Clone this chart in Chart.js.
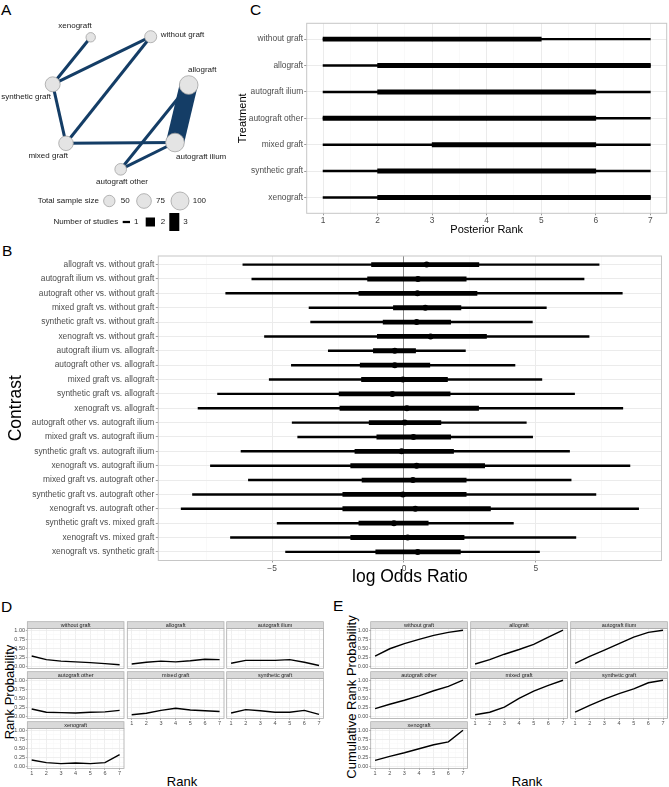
<!DOCTYPE html>
<html><head><meta charset="utf-8">
<script src="https://cdn.jsdelivr.net/npm/chart.js@4.4.1/dist/chart.umd.min.js"></script>
<style>
html,body{margin:0;padding:0;background:#fff;}
body{width:669px;height:787px;position:relative;overflow:hidden;font-family:"Liberation Sans",Arial,Helvetica,sans-serif;}
.lab{position:absolute;font-size:15.5px;line-height:1;color:#000;}
.ttl{position:absolute;line-height:1;color:#000;white-space:nowrap;transform:translate(-50%,-50%);}
.rot{transform:translate(-50%,-50%) rotate(-90deg);}
</style></head><body>
<div class="lab" style="left:1px;top:2px">A</div>
<div class="lab" style="left:250px;top:2px">C</div>
<div class="lab" style="left:2px;top:243px">B</div>
<div class="lab" style="left:1px;top:599px">D</div>
<div class="lab" style="left:333px;top:598px">E</div>
<div class="ttl rot" style="left:8.5px;top:692px;font-size:13px">Rank Probability</div>
<div class="ttl" style="left:182px;top:781px;font-size:13px">Rank</div>
<div class="ttl rot" style="left:350.5px;top:697px;font-size:13px">Cumulative Rank Probability</div>
<div class="ttl" style="left:527px;top:781px;font-size:13px">Rank</div>
<script>
// ---------------- DATA ----------------
const treatments = ['without graft','allograft','autograft ilium','autograft other','mixed graft','synthetic graft','xenograft'];
// Panel A: network
const sampleSize = [55, 105, 105, 52, 74, 77, 35];
const nodeX = [150.7, 188.7, 175, 120.7, 66, 52.7, 90.7];
const nodeY = [36.7, 85, 142.5, 169.3, 143.3, 84.3, 37.3];
const edgeFrom = ['xenograft','synthetic graft','synthetic graft','mixed graft','mixed graft','allograft','autograft ilium','allograft'];
const edgeTo   = ['synthetic graft','without graft','mixed graft','without graft','autograft ilium','autograft other','autograft other','autograft ilium'];
const edgeStudies = [1, 1, 1, 1, 1, 1, 1, 3];
const legendSizes = [50, 75, 100];
const legendStudies = [1, 2, 3];

// Panel C: posterior rank
const rankTicks = [1, 2, 3, 4, 5, 6, 7];
const rankMedian  = [3, 5, 4, 4, 5, 4, 5];
const rankInnerLo = [1, 2, 2, 1, 3, 2, 2];
const rankInnerHi = [5, 7, 6, 6, 6, 6, 7];
const rankOuterLo = [1, 1, 1, 1, 1, 1, 1];
const rankOuterHi = [7, 7, 7, 7, 7, 7, 7];

// Panel B: log odds ratio contrasts
const contrasts = [
  'allograft vs. without graft','autograft ilium vs. without graft','autograft other vs. without graft',
  'mixed graft vs. without graft','synthetic graft vs. without graft','xenograft vs. without graft',
  'autograft ilium vs. allograft','autograft other vs. allograft','mixed graft vs. allograft',
  'synthetic graft vs. allograft','xenograft vs. allograft','autograft other vs. autograft ilium',
  'mixed graft vs. autograft ilium','synthetic graft vs. autograft ilium','xenograft vs. autograft ilium',
  'mixed graft vs. autograft other','synthetic graft vs. autograft other','xenograft vs. autograft other',
  'synthetic graft vs. mixed graft','xenograft vs. mixed graft','xenograft vs. synthetic graft'];
const lorOuterLo = [-6.11,-5.77,-6.76,-3.60,-3.54,-5.29,-2.87,-4.27,-5.11,-7.07,-7.81,-4.24,-4.03,-6.18,-7.34,-5.90,-8.02,-8.45,-4.81,-6.58,-4.49];
const lorInnerLo = [-1.23,-1.38,-1.71,-0.40,-0.79,-1.01,-1.16,-1.66,-1.61,-2.46,-2.43,-1.32,-1.03,-1.86,-2.02,-1.59,-2.32,-2.32,-1.71,-2.02,-1.07];
const lorMean    = [0.86,0.53,0.51,0.81,0.48,1.01,-0.35,-0.35,-0.04,-0.44,0.11,0.03,0.36,-0.09,0.48,0.34,-0.04,0.43,-0.38,0.14,0.52];
const lorInnerHi = [2.84,2.36,2.77,2.16,1.77,3.13,0.44,0.98,1.65,1.75,2.83,1.40,1.77,1.88,3.06,2.36,2.36,3.28,0.92,2.28,2.14];
const lorOuterHi = [7.40,6.83,8.28,5.40,4.87,7.02,2.33,4.21,5.23,6.47,8.30,4.64,4.88,6.28,8.57,6.34,7.28,8.90,4.15,6.52,5.14];
const lorTickValues = [-5, 0, 5];
const lorTickLabels = ['\u22125', '0', '5'];

// Panel D: rank probability
const probWithoutGraft   = [0.29,0.19,0.15,0.13,0.11,0.08,0.05];
const probAllograft      = [0.07,0.12,0.15,0.13,0.16,0.20,0.19];
const probAutograftIlium = [0.09,0.17,0.17,0.17,0.19,0.12,0.03];
const probAutograftOther = [0.21,0.12,0.11,0.10,0.12,0.13,0.17];
const probMixedGraft     = [0.05,0.09,0.17,0.23,0.18,0.16,0.14];
const probSyntheticGraft = [0.10,0.19,0.16,0.12,0.12,0.17,0.06];
const probXenograft      = [0.18,0.11,0.08,0.10,0.08,0.11,0.33];
// Panel E: cumulative rank probability
const cumWithoutGraft   = [0.29,0.49,0.63,0.75,0.86,0.94,1.00];
const cumAllograft      = [0.07,0.19,0.34,0.47,0.61,0.81,1.00];
const cumAutograftIlium = [0.09,0.28,0.45,0.63,0.81,0.94,1.00];
const cumAutograftOther = [0.22,0.34,0.45,0.57,0.71,0.83,1.00];
const cumMixedGraft     = [0.05,0.12,0.26,0.50,0.70,0.86,1.00];
const cumSyntheticGraft = [0.12,0.31,0.48,0.63,0.76,0.93,1.00];
const cumXenograft      = [0.17,0.28,0.38,0.49,0.60,0.68,1.00];
const probTickValues = [0, 0.25, 0.5, 0.75, 1];
const probTickLabels = ['0.00','0.25','0.50','0.75','1.00'];

// ---------------- HELPERS ----------------
const FONT = '"Liberation Sans", Arial, Helvetica, sans-serif';
Chart.defaults.font.family = FONT;
Chart.defaults.color = '#4d4d4d';
Chart.defaults.animation = false;

function mk(L, T, W, H) {
  const c = document.createElement('canvas');
  c.width = W; c.height = H;
  c.style.cssText = `position:absolute;left:${L}px;top:${T}px;width:${W}px;height:${H}px`;
  document.body.appendChild(c);
  return c;
}
function geom(L, T, W, H, a) {
  return { padding: {left: 0, top: a.t - T, right: L + W - a.r, bottom: 0}, yW: a.l - L, xH: T + H - a.b };
}
const tv = c => (c && c.tick) ? c.tick.value : NaN;
const isMajor = (v, list) => list.some(x => Math.abs(x - v) < 1e-9);
const framePlugin = {
  id: 'frame',
  afterDraw(chart, args, o) {
    const {ctx, chartArea: a} = chart;
    ctx.save();
    if (o.strip) {
      ctx.fillStyle = '#d9d9d9';
      ctx.fillRect(a.left, a.top - o.stripH, a.right - a.left, o.stripH);
      ctx.strokeStyle = o.color; ctx.lineWidth = 0.7;
      ctx.strokeRect(a.left, a.top - o.stripH, a.right - a.left, o.stripH);
      ctx.fillStyle = '#1a1a1a';
      ctx.font = '5.5px ' + FONT;
      ctx.textAlign = 'center'; ctx.textBaseline = 'middle';
      ctx.fillText(o.strip, (a.left + a.right) / 2, a.top - o.stripH / 2 + 0.3);
    }
    ctx.strokeStyle = o.color; ctx.lineWidth = o.width || 1;
    ctx.strokeRect(a.left, a.top, a.right - a.left, a.bottom - a.top);
    ctx.restore();
  }
};

// ---------------- PANEL A ----------------
(function () {
  const idx = n => treatments.indexOf(n);
  const studyWidth = n => ({1: 3, 2: 9, 3: 18})[n];
  const sizeRadius = n => 2.4 + 0.066 * n;
  const labelStyle = {
    'without graft':   {dx: 10,  dy: -2.4, align: 'left'},
    'allograft':       {dx: -0.7, dy: -15, align: 'left'},
    'autograft ilium': {dx: 1,   dy: 14,  align: 'left'},
    'autograft other': {dx: 1.3, dy: 12.7, align: 'center'},
    'mixed graft':     {dx: 2,   dy: 12.7, align: 'right'},
    'synthetic graft': {dx: -1.7, dy: 12.7, align: 'right'},
    'xenograft':       {dx: -15.7, dy: -11.3, align: 'center'}
  };
  const edges = edgeFrom.map((f, k) => ({
    type: 'line',
    data: [{x: nodeX[idx(f)], y: nodeY[idx(f)]}, {x: nodeX[idx(edgeTo[k])], y: nodeY[idx(edgeTo[k])]}],
    borderColor: '#143d66', borderWidth: studyWidth(edgeStudies[k]), borderCapStyle: 'butt',
    pointRadius: 0, fill: false, order: 1, clip: false
  }));
  const nodes = {
    type: 'bubble',
    data: treatments.map((t, i) => ({x: nodeX[i], y: nodeY[i], r: sizeRadius(sampleSize[i])})),
    backgroundColor: '#e4e4e4', borderColor: '#a3a3a3', borderWidth: 0.8, order: 0, clip: false
  };
  const netPlugin = {
    id: 'net',
    afterDraw(chart) {
      const {ctx, scales: {x, y}} = chart;
      ctx.save();
      ctx.fillStyle = '#1a1a1a';
      ctx.font = '8px ' + FONT;
      ctx.textBaseline = 'middle';
      treatments.forEach((t, i) => {
        const s = labelStyle[t];
        ctx.textAlign = s.align;
        ctx.fillText(t, x.getPixelForValue(nodeX[i]) + s.dx, y.getPixelForValue(nodeY[i]) + s.dy);
      });
      ctx.textAlign = 'right';
      ctx.fillText('Total sample size', 99, 201);
      const cx = [109.3, 144, 180], tx = [120.7, 156, 192.7];
      legendSizes.forEach((n, k) => {
        ctx.beginPath(); ctx.arc(cx[k], 201, sizeRadius(n), 0, Math.PI * 2);
        ctx.fillStyle = '#e4e4e4'; ctx.fill();
        ctx.strokeStyle = '#a3a3a3'; ctx.lineWidth = 0.8; ctx.stroke();
        ctx.fillStyle = '#1a1a1a'; ctx.textAlign = 'left';
        ctx.fillText(String(n), tx[k], 201);
      });
      ctx.textAlign = 'right';
      ctx.fillText('Number of studies', 118.3, 222);
      const kx = [122.7, 145.7, 169.3], kw = [7.3, 9.3, 10], lx = [134, 160.7, 183.3];
      legendStudies.forEach((n, k) => {
        const h = studyWidth(n) * (n === 1 ? 0.75 : 1);
        ctx.fillStyle = '#000';
        ctx.fillRect(kx[k], 222 - h / 2, kw[k], h);
        ctx.fillStyle = '#1a1a1a'; ctx.textAlign = 'left';
        ctx.fillText(String(n), lx[k], 222);
      });
      ctx.restore();
    }
  };
  new Chart(mk(0, 0, 230, 240), {
    type: 'scatter',
    data: {datasets: [...edges, nodes]},
    options: {
      responsive: false, events: [],
      layout: {padding: 0, autoPadding: false},
      plugins: {legend: {display: false}, tooltip: {enabled: false}},
      scales: {
        x: {type: 'linear', display: false, min: 0, max: 230, offset: false},
        y: {type: 'linear', display: false, min: 0, max: 240, reverse: true, offset: false}
      }
    },
    plugins: [netPlugin]
  });
})();

// ---------------- PANEL C ----------------
(function () {
  const L = 220, T = 0, W = 449, H = 240;
  const g = geom(L, T, W, H, {l: 306.7, t: 23.3, r: 666.7, b: 213.3});
  const minorX = [1.5, 2.5, 3.5, 4.5, 5.5, 6.5];
  new Chart(mk(L, T, W, H), {
    type: 'bar',
    data: {datasets: [
      {type: 'scatter', data: treatments.map((t, i) => ({x: rankMedian[i], y: i})), pointRadius: 2,
       backgroundColor: '#000', borderColor: '#000', borderWidth: 0, order: 0},
      {type: 'bar', indexAxis: 'y', grouped: false, data: treatments.map((t, i) => ({y: i, x: [rankInnerLo[i], rankInnerHi[i]]})),
       barThickness: 4.3, backgroundColor: '#000', order: 1},
      {type: 'bar', indexAxis: 'y', grouped: false, data: treatments.map((t, i) => ({y: i, x: [rankOuterLo[i], rankOuterHi[i]]})),
       barThickness: 1.8, backgroundColor: '#000', order: 2}
    ]},
    options: {
      responsive: false, events: [],
      layout: {padding: g.padding, autoPadding: false},
      plugins: {legend: {display: false}, tooltip: {enabled: false}, frame: {color: '#c6c6c6', width: 1}},
      scales: {
        x: {type: 'linear', position: 'bottom', min: 0.7, max: 7.3, offset: false, beginAtZero: false,
          afterBuildTicks: s => { s.ticks = [...rankTicks, ...minorX].sort((a, b) => a - b).map(v => ({value: v})); },
          afterFit: s => { s.height = g.xH; },
          border: {display: false},
          grid: {offset: false, color: c => isMajor(tv(c), rankTicks) ? '#ebebeb' : '#f5f5f5',
                 lineWidth: c => isMajor(tv(c), rankTicks) ? 1 : 0.6,
                 tickColor: c => isMajor(tv(c), rankTicks) ? '#9a9a9a' : 'rgba(0,0,0,0)', tickLength: 2},
          ticks: {autoSkip: false, maxRotation: 0, padding: 0, font: {size: 8.4},
                  callback: v => isMajor(v, rankTicks) ? String(v) : ''},
          title: {display: true, text: 'Posterior Rank', color: '#000', font: {size: 11}, padding: {top: 0, bottom: 3.4}}
        },
        y: {type: 'linear', position: 'left', min: -0.6, max: treatments.length - 0.4, reverse: true, offset: false, beginAtZero: false,
          afterBuildTicks: s => { s.ticks = treatments.map((t, i) => ({value: i})); },
          afterFit: s => { s.width = g.yW; },
          border: {display: false},
          grid: {offset: false, color: '#ebebeb', lineWidth: 1, tickColor: '#9a9a9a', tickLength: 2.5},
          ticks: {autoSkip: false, padding: 1, font: {size: 8.4}, callback: v => treatments[v]},
          title: {display: true, text: 'Treatment', color: '#000', font: {size: 11}, padding: {top: 16.7, bottom: 0}}
        }
      }
    },
    plugins: [framePlugin]
  });
})();

// ---------------- PANEL B ----------------
(function () {
  const L = 0, T = 240, W = 669, H = 350;
  const g = geom(L, T, W, H, {l: 158.3, t: 256, r: 661.5, b: 560.5});
  const lo = Math.min(...lorOuterLo), hi = Math.max(...lorOuterHi), ex = (hi - lo) * 0.05;
  const minorX = [-7.5, -2.5, 2.5, 7.5];
  new Chart(mk(L, T, W, H), {
    type: 'bar',
    data: {datasets: [
      {type: 'scatter', data: contrasts.map((c, i) => ({x: lorMean[i], y: i})), pointRadius: 3,
       backgroundColor: '#000', borderColor: '#000', borderWidth: 0, order: 0},
      {type: 'bar', indexAxis: 'y', grouped: false, data: contrasts.map((c, i) => ({y: i, x: [lorInnerLo[i], lorInnerHi[i]]})),
       barThickness: 4.2, backgroundColor: '#000', order: 1},
      {type: 'bar', indexAxis: 'y', grouped: false, data: contrasts.map((c, i) => ({y: i, x: [lorOuterLo[i], lorOuterHi[i]]})),
       barThickness: 1.8, backgroundColor: '#000', order: 2}
    ]},
    options: {
      responsive: false, events: [],
      layout: {padding: g.padding, autoPadding: false},
      plugins: {legend: {display: false}, tooltip: {enabled: false}, frame: {color: '#c6c6c6', width: 1}},
      scales: {
        x: {type: 'linear', position: 'bottom', min: lo - ex, max: hi + ex, offset: false, beginAtZero: false,
          afterBuildTicks: s => { s.ticks = [...lorTickValues, ...minorX].sort((a, b) => a - b).map(v => ({value: v})); },
          afterFit: s => { s.height = g.xH; },
          border: {display: false},
          grid: {offset: false, color: c => tv(c) === 0 ? '#8a8a8a' : (isMajor(tv(c), lorTickValues) ? '#ebebeb' : '#f5f5f5'),
                 lineWidth: c => tv(c) === 0 ? 1 : (isMajor(tv(c), lorTickValues) ? 1 : 0.6),
                 tickColor: c => isMajor(tv(c), lorTickValues) ? '#9a9a9a' : 'rgba(0,0,0,0)', tickLength: 2},
          ticks: {autoSkip: false, maxRotation: 0, padding: 1.5, font: {size: 8.4},
                  callback: v => { const k = lorTickValues.findIndex(t => Math.abs(t - v) < 1e-9); return k >= 0 ? lorTickLabels[k] : ''; }},
          title: {display: true, text: 'log Odds Ratio', color: '#000', font: {size: 17.5}, padding: {top: 0, bottom: 2.5}}
        },
        y: {type: 'linear', position: 'left', min: -0.6, max: contrasts.length - 0.4, reverse: true, offset: false, beginAtZero: false,
          afterBuildTicks: s => { s.ticks = contrasts.map((c, i) => ({value: i})); },
          afterFit: s => { s.width = g.yW; },
          border: {display: false},
          grid: {offset: false, color: '#ebebeb', lineWidth: 1, tickColor: '#9a9a9a', tickLength: 2.5},
          ticks: {autoSkip: false, padding: 1.5, font: {size: 8.4}, callback: v => contrasts[v]},
          title: {display: true, text: 'Contrast', color: '#000', font: {size: 17.5}, padding: {top: 5.5, bottom: 0}}
        }
      }
    },
    plugins: [framePlugin]
  });
})();

// ---------------- PANELS D & E (facets) ----------------
function facet(x0, stripTop, title, values, showY, showX) {
  const Wp = 96.7, Hp = 40, S = 6.7;
  const L = Math.floor(x0) - 27, T = Math.floor(stripTop) - 1, W = 27 + 100, H = 60;
  const g = geom(L, T, W, H, {l: x0, t: stripTop + S, r: x0 + Wp, b: stripTop + S + Hp});
  const minorX = [1.5, 2.5, 3.5, 4.5, 5.5, 6.5];
  const minorY = [0.125, 0.375, 0.625, 0.875];
  new Chart(mk(L, T, W, H), {
    type: 'line',
    data: {datasets: [{data: rankTicks.map((r, i) => ({x: r, y: values[i]})), borderColor: '#000',
      borderWidth: 1.4, pointRadius: 0, tension: 0, fill: false}]},
    options: {
      responsive: false, events: [],
      layout: {padding: g.padding, autoPadding: false},
      plugins: {legend: {display: false}, tooltip: {enabled: false},
                frame: {color: '#ababab', width: 0.8, strip: title, stripH: S}},
      scales: {
        x: {type: 'linear', min: 0.7, max: 7.3, offset: false,
          afterBuildTicks: s => { s.ticks = [...rankTicks, ...minorX].sort((a, b) => a - b).map(v => ({value: v})); },
          afterFit: s => { s.height = g.xH; },
          border: {display: false},
          grid: {color: c => isMajor(tv(c), rankTicks) ? '#ebebeb' : '#f6f6f6',
                 lineWidth: c => isMajor(tv(c), rankTicks) ? 0.8 : 0.5,
                 drawTicks: showX,
                 tickColor: c => isMajor(tv(c), rankTicks) ? '#9a9a9a' : 'rgba(0,0,0,0)', tickLength: 1.5},
          ticks: {display: showX, autoSkip: false, maxRotation: 0, padding: 0.5, font: {size: 5.5},
                  callback: v => isMajor(v, rankTicks) ? String(v) : ''}
        },
        y: {type: 'linear', min: -0.05, max: 1.05, offset: false,
          afterBuildTicks: s => { s.ticks = [...probTickValues, ...minorY].sort((a, b) => a - b).map(v => ({value: v})); },
          afterFit: s => { s.width = g.yW; },
          border: {display: false},
          grid: {color: c => isMajor(tv(c), probTickValues) ? '#ebebeb' : '#f6f6f6',
                 lineWidth: c => isMajor(tv(c), probTickValues) ? 0.8 : 0.5,
                 drawTicks: showY,
                 tickColor: c => isMajor(tv(c), probTickValues) ? '#9a9a9a' : 'rgba(0,0,0,0)', tickLength: 1.5},
          ticks: {display: showY, autoSkip: false, padding: 0.8, font: {size: 5.5},
                  callback: v => { const k = probTickValues.findIndex(t => Math.abs(t - v) < 1e-9); return k >= 0 ? probTickLabels[k] : ''; }}
        }
      }
    },
    plugins: [framePlugin]
  });
}
const stripTops = [621.7, 671.7, 721.7];
const dCols = [27.3, 127.3, 226.7];
const eCols = [370.7, 470.7, 570.7];
const dSeries = [probWithoutGraft, probAllograft, probAutograftIlium, probAutograftOther, probMixedGraft, probSyntheticGraft, probXenograft];
const eSeries = [cumWithoutGraft, cumAllograft, cumAutograftIlium, cumAutograftOther, cumMixedGraft, cumSyntheticGraft, cumXenograft];
treatments.forEach((t, i) => {
  const row = Math.floor(i / 3), col = i % 3;
  const showX = (col === 0 && row === 2) || (col > 0 && row === 1);
  facet(dCols[col], stripTops[row], t, dSeries[i], col === 0, showX);
  facet(eCols[col], stripTops[row], t, eSeries[i], col === 0, showX);
});
</script>
</body></html>
